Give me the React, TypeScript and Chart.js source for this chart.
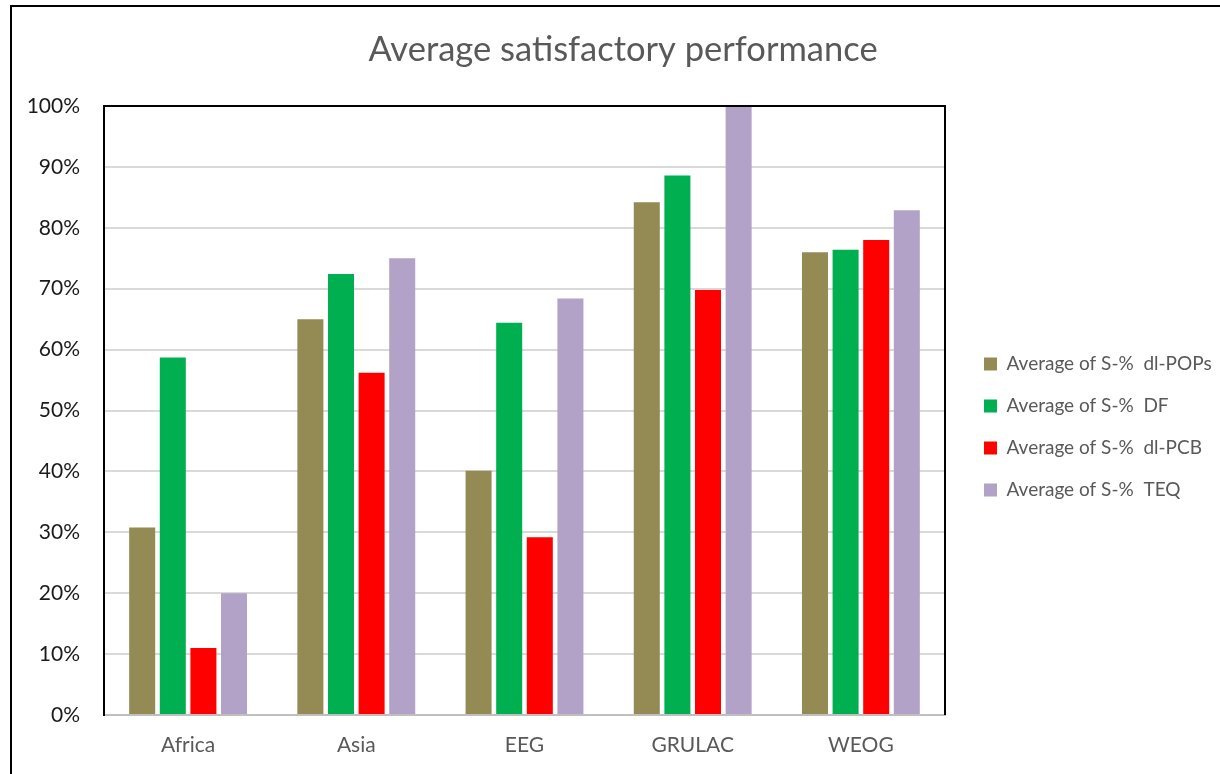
import React, { useEffect, useRef } from "react";
import { Chart, registerables } from "chart.js";

Chart.register(...registerables);

const categories = ["Africa", "Asia", "EEG", "GRULAC", "WEOG"];
const seriesLabels = [
  "Average of S-%  dl-POPs",
  "Average of S-%  DF",
  "Average of S-%  dl-PCB",
  "Average of S-%  TEQ",
];
const popsValues = [30.8, 65.0, 40.1, 84.2, 76.0];
const dfValues = [58.7, 72.4, 64.4, 88.6, 76.4];
const pcbValues = [11.0, 56.2, 29.2, 69.8, 78.0];
const teqValues = [20.0, 75.0, 68.4, 100.0, 82.9];
const seriesColors = ["#948A54", "#00B050", "#FF0000", "#B3A2C7"];
const yMin = 0;
const yMax = 100;
const yStep = 10;

const FONT = "Lato, 'Open Sans', sans-serif";

const layoutFix = {
  id: "layoutFix",
  beforeInit(chart: any) {
    const lg = chart.legend;
    if (lg && !lg.__patched) {
      const orig = lg.fit.bind(lg);
      lg.fit = function () {
        orig();
        lg.width = 275;
      };
      lg.__patched = true;
    }
  },
  afterLayout(chart: any) {
    const lg = chart.legend;
    if (lg) {
      const dx = 16;
      const dy = 40;
      lg.left += dx;
      lg.right += dx;
      lg.top += dy;
      lg.bottom += dy;
    }
  },
  afterDatasetsDraw(chart: any) {
    const { ctx, chartArea } = chart;
    ctx.save();
    ctx.strokeStyle = "#000000";
    ctx.lineWidth = 2;
    ctx.beginPath();
    ctx.moveTo(chartArea.left, chartArea.top);
    ctx.lineTo(chartArea.right, chartArea.top);
    ctx.lineTo(chartArea.right, chartArea.bottom);
    ctx.stroke();
    ctx.restore();
  },
};

export default function App() {
  const canvasRef = useRef<HTMLCanvasElement | null>(null);

  useEffect(() => {
    const canvas = canvasRef.current;
    if (!canvas) return;
    const values = [popsValues, dfValues, pcbValues, teqValues];
    const chart = new Chart(canvas, {
      type: "bar",
      data: {
        labels: categories,
        datasets: seriesLabels.map((label, i) => ({
          label,
          data: values[i],
          backgroundColor: seriesColors[i],
          borderWidth: 0,
          categoryPercentage: 0.728,
          barPercentage: 0.85,
        })),
      },
      options: {
        responsive: false,
        animation: false,
        maintainAspectRatio: false,
        layout: { padding: { left: 26, right: 0, top: 0, bottom: 0 } },
        plugins: {
          title: {
            display: true,
            text: "Average satisfactory performance",
            color: "#595959",
            font: { family: FONT, size: 34.5, weight: "normal" },
            padding: { top: 29, bottom: 35.6 },
          },
          legend: {
            position: "right",
            align: "center",
            labels: {
              color: "#595959",
              font: { family: FONT, size: 19 },
              boxWidth: 13,
              boxHeight: 13,
              padding: 23,
            },
          },
          tooltip: { enabled: false },
        },
        scales: {
          x: {
            grid: { display: false, drawTicks: false },
            border: { display: true, color: "#BFBFBF", width: 2 },
            ticks: {
              color: "#595959",
              font: { family: FONT, size: 21 },
              padding: 18,
            },
            afterFit(scale: any) {
              scale.height = 59;
            },
          },
          y: {
            min: yMin,
            max: yMax,
            grid: { color: "#D9D9D9", lineWidth: 2, drawTicks: false },
            border: { display: true, color: "#000000", width: 2 },
            ticks: {
              stepSize: yStep,
              color: "#1a1a1a",
              font: { family: FONT, size: 21 },
              padding: 24,
              callback: (v: any) => `${v}%`,
            },
            afterFit(scale: any) {
              scale.width = 78;
            },
          },
        },
      },
      plugins: [layoutFix],
    });
    return () => chart.destroy();
  }, []);

  return (
    <>
      <canvas
        ref={canvasRef}
        width={1220}
        height={774}
        style={{ position: "fixed", left: 0, top: 0, width: 1220, height: 774 }}
      />
      <div
        style={{
          position: "fixed",
          left: 10,
          top: 5,
          width: 1300,
          height: 900,
          borderLeft: "2px solid #000",
          borderTop: "2px solid #000",
          pointerEvents: "none",
        }}
      />
    </>
  );
}
